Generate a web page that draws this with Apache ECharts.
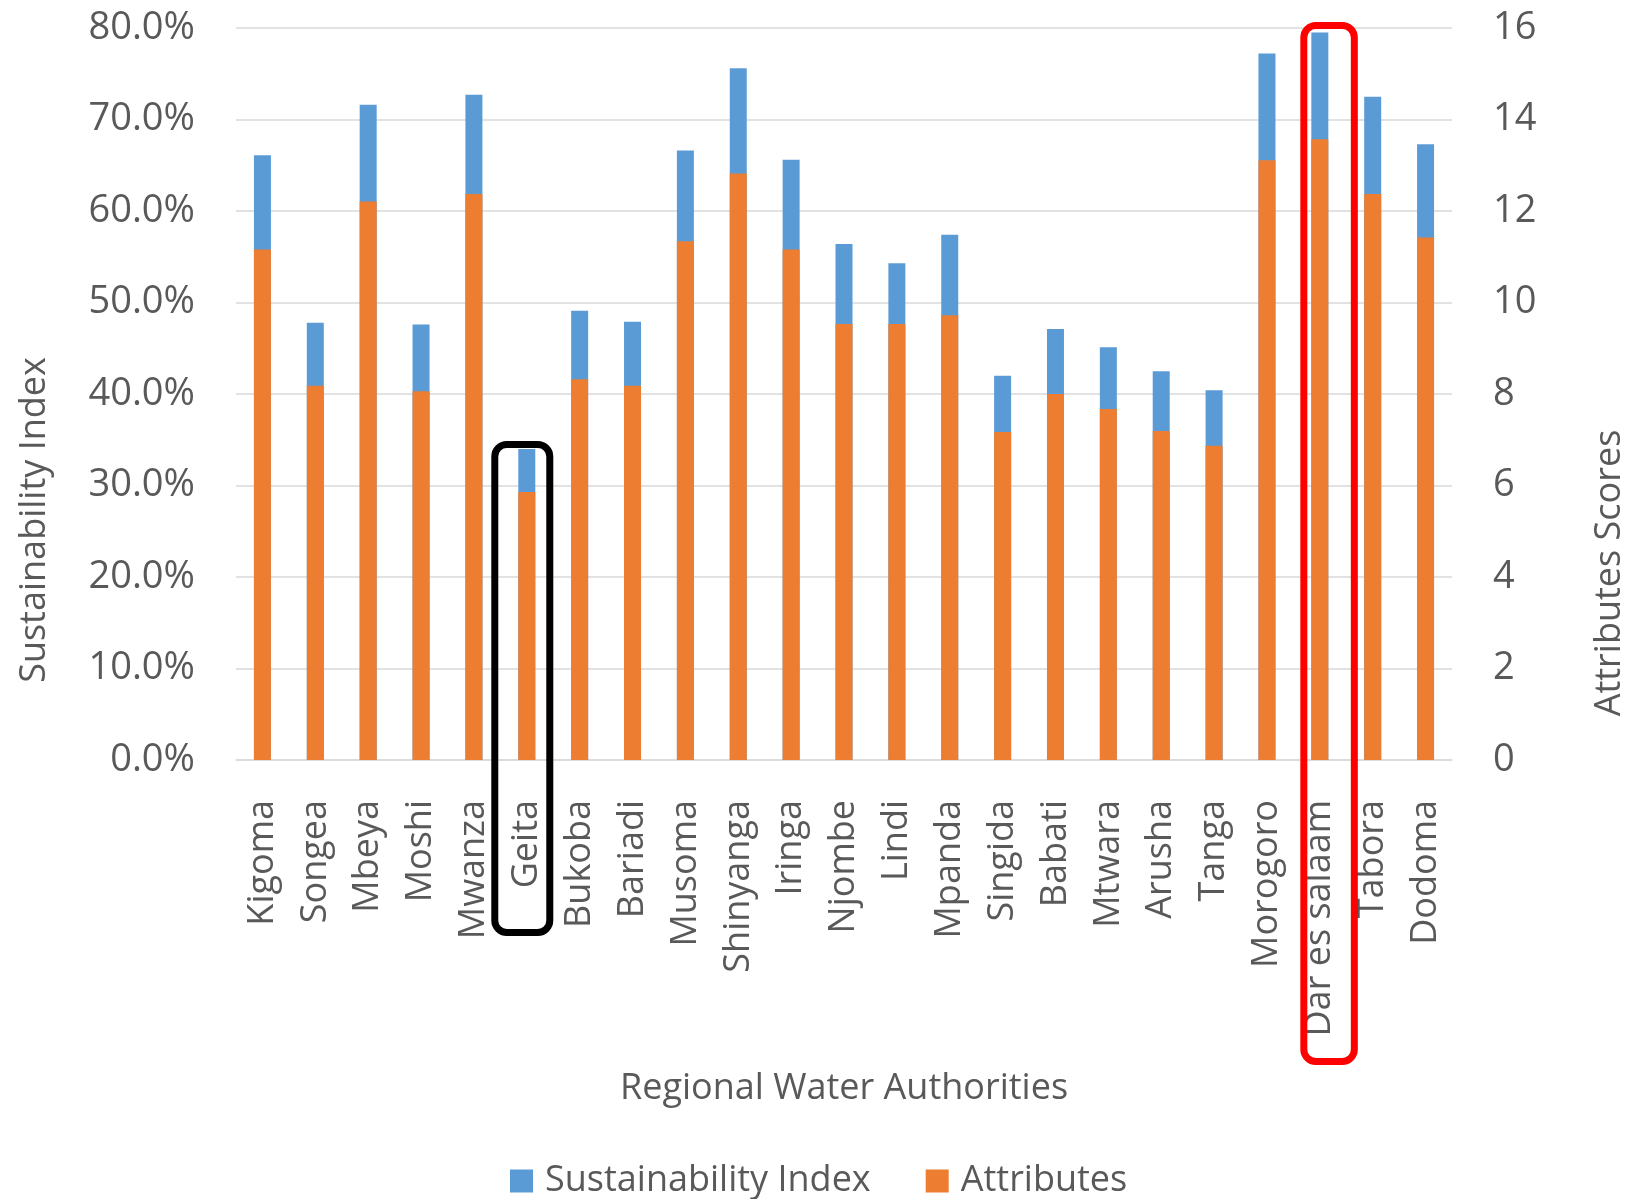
<!DOCTYPE html>
<html>
<head>
<meta charset="utf-8">
<script src="https://cdn.jsdelivr.net/npm/echarts@6/dist/echarts.min.js"></script>
<style>
  html, body { margin: 0; padding: 0; background: #ffffff; }
  #chart { width: 1633px; height: 1199px; }
</style>
</head>
<body>
<div id="chart"></div>
<script>
// Regional water authorities (x axis)
const regions = ['Kigoma', 'Songea', 'Mbeya', 'Moshi', 'Mwanza', 'Geita', 'Bukoba', 'Bariadi',
  'Musoma', 'Shinyanga', 'Iringa', 'Njombe', 'Lindi', 'Mpanda', 'Singida', 'Babati', 'Mtwara',
  'Arusha', 'Tanga', 'Morogoro', 'Dar es salaam', 'Tabora', 'Dodoma'];

// Sustainability index, percent (left axis)
const sustainabilityIndex = [66.1, 47.8, 71.6, 47.6, 72.7, 34.0, 49.1, 47.9, 66.6, 75.6, 65.6,
  56.4, 54.3, 57.4, 42.0, 47.1, 45.1, 42.5, 40.4, 77.2, 79.5, 72.5, 67.3];

// Attribute scores (right axis)
const attributeScores = [11.16, 8.18, 12.21, 8.06, 12.37, 5.86, 8.32, 8.18, 11.34, 12.82, 11.16,
  9.53, 9.53, 9.72, 7.17, 8.0, 7.67, 7.19, 6.87, 13.11, 13.57, 12.37, 11.42];

// Axis ranges
const indexAxis = { min: 0, max: 80, interval: 10 };
const scoreAxis = { min: 0, max: 16, interval: 2 };

// Highlighted authorities
const lowestRegion = 'Geita';
const highestRegion = 'Dar es salaam';

const FONT = 'Open Sans';
const TEXT = '#595959';
const GRID_LINE = '#d9d9d9';

const chart = echarts.init(document.getElementById('chart'), null, { renderer: 'canvas' });

chart.setOption({
  animation: false,
  backgroundColor: '#ffffff',
  textStyle: { fontFamily: FONT, color: TEXT },
  grid: { left: 236, right: 181, top: 28, bottom: 439 },
  legend: {
    left: 505,
    top: 1158,
    icon: 'rect',
    itemWidth: 23,
    itemHeight: 23,
    itemGap: 55,
    textStyle: { fontFamily: FONT, fontSize: 36, color: TEXT, padding: [0, 0, 0, 7] },
    data: ['Sustainability Index', 'Attributes']
  },
  xAxis: {
    type: 'category',
    data: regions,
    axisTick: { show: false },
    axisLine: { lineStyle: { color: GRID_LINE, width: 1.5 } },
    axisLabel: {
      interval: 0,
      rotate: 90,
      fontFamily: FONT,
      fontSize: 36,
      color: TEXT,
      margin: 40
    }
  },
  yAxis: [
    {
      type: 'value',
      min: indexAxis.min,
      max: indexAxis.max,
      interval: indexAxis.interval,
      axisLine: { show: false },
      axisTick: { show: false },
      axisLabel: {
        fontFamily: FONT,
        fontSize: 38,
        color: TEXT,
        margin: 41,
        formatter: v => v.toFixed(1) + '%'
      },
      splitLine: { lineStyle: { color: GRID_LINE, width: 1.5 } }
    },
    {
      type: 'value',
      min: scoreAxis.min,
      max: scoreAxis.max,
      interval: scoreAxis.interval,
      axisLine: { show: false },
      axisTick: { show: false },
      axisLabel: { fontFamily: FONT, fontSize: 38, color: TEXT, margin: 41 },
      splitLine: { show: false }
    }
  ],
  series: [
    {
      name: 'Sustainability Index',
      type: 'bar',
      yAxisIndex: 0,
      data: sustainabilityIndex,
      barWidth: 17,
      barGap: '-100%',
      itemStyle: { color: '#5B9BD5' }
    },
    {
      name: 'Attributes',
      type: 'bar',
      yAxisIndex: 1,
      data: attributeScores,
      barWidth: 17,
      barGap: '-100%',
      itemStyle: { color: '#ED7D31' }
    }
  ]
});

// Axis titles and highlight frames, placed from the category axis positions
const lowX = chart.convertToPixel({ xAxisIndex: 0 }, lowestRegion);
const highX = chart.convertToPixel({ xAxisIndex: 0 }, highestRegion);

chart.setOption({
  graphic: [
    {
      type: 'text',
      x: 35, y: 520,
      rotation: Math.PI / 2,
      style: {
        text: 'Sustainability Index',
        font: '36px "' + FONT + '"',
        fill: TEXT,
        align: 'center',
        verticalAlign: 'middle'
      }
    },
    {
      type: 'text',
      x: 1610, y: 573,
      rotation: Math.PI / 2,
      style: {
        text: 'Attributes Scores',
        font: '36px "' + FONT + '"',
        fill: TEXT,
        align: 'center',
        verticalAlign: 'middle'
      }
    },
    {
      type: 'text',
      x: 844, y: 1089,
      style: {
        text: 'Regional Water Authorities',
        font: '36px "' + FONT + '"',
        fill: TEXT,
        align: 'center',
        verticalAlign: 'middle'
      }
    },
    {
      type: 'rect',
      z: 100,
      shape: { x: lowX - 32, y: 444.5, width: 55, height: 488, r: 12 },
      style: { fill: 'none', stroke: '#000000', lineWidth: 7 }
    },
    {
      type: 'rect',
      z: 100,
      shape: { x: highX - 16, y: 25.5, width: 50.5, height: 1036, r: 12 },
      style: { fill: 'none', stroke: '#ff0000', lineWidth: 7 }
    }
  ]
});
</script>
</body>
</html>
